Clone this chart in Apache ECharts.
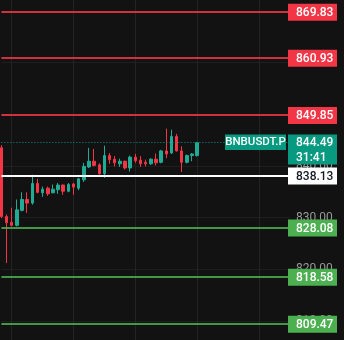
<!DOCTYPE html>
<html><head><meta charset="utf-8">
<script src="https://cdn.jsdelivr.net/npm/echarts@6/dist/echarts.min.js"></script>
<style>html,body{margin:0;padding:0;background:#121212;}#c{width:344px;height:340px;}</style>
</head><body><div id="c"></div>
<script>
// ---- data ----
const slotCount = 57;
const categories = Array.from({length: slotCount}, (_, i) => String(i + 1));
// [open, close, low, high]
const candles = [
  [843.5, 830.2, 829.9, 844.0],
  [830.2, 829.0, 821.2, 830.6],
  [829.1, 828.5, 828.3, 831.9],
  [828.5, 831.5, 828.3, 833.5],
  [831.4, 833.5, 831.2, 834.9],
  [833.5, 832.8, 830.9, 834.9],
  [832.8, 836.6, 832.5, 838.3],
  [836.6, 834.9, 834.7, 837.5],
  [834.8, 835.5, 834.0, 836.0],
  [835.7, 834.6, 834.2, 836.0],
  [834.8, 835.5, 834.7, 836.4],
  [835.4, 836.3, 834.6, 836.7],
  [836.3, 835.1, 834.4, 836.4],
  [835.1, 836.4, 834.9, 836.7],
  [836.5, 835.9, 834.4, 836.7],
  [835.7, 837.5, 835.3, 837.7],
  [837.3, 839.9, 836.9, 840.6],
  [839.8, 840.9, 839.6, 843.5],
  [840.9, 840.1, 839.9, 843.3],
  [840.2, 838.5, 838.3, 840.5],
  [838.5, 842.0, 837.7, 843.9],
  [842.0, 841.2, 840.4, 842.5],
  [841.3, 840.6, 839.9, 841.9],
  [840.4, 840.9, 839.8, 841.4],
  [840.9, 839.6, 839.3, 841.0],
  [839.6, 841.7, 838.9, 842.0],
  [841.7, 841.0, 840.6, 842.3],
  [841.1, 840.4, 839.8, 841.9],
  [840.7, 840.4, 839.9, 841.2],
  [840.4, 841.3, 840.2, 841.5],
  [841.3, 840.6, 840.1, 842.4],
  [840.7, 842.9, 840.5, 843.1],
  [842.9, 842.3, 841.5, 847.2],
  [842.5, 845.7, 842.3, 847.0],
  [845.7, 842.9, 842.8, 846.2],
  [842.9, 840.7, 838.8, 843.8],
  [840.7, 842.0, 840.5, 842.2],
  [842.0, 842.3, 840.9, 842.5],
  [842.0, 844.49, 841.8, 844.6]
];
const resistanceLevels = [869.83, 860.93, 849.85];
const pivotLevels = [838.13];
const supportLevels = [828.08, 818.58, 809.47];
const lastPrice = 844.49;
const symbolName = 'BNBUSDT.P';
const countdown = '31:41';
const yMin = 800, yMax = 880, yInterval = 10;

// ---- styles ----
const UP = '#22ab94', DOWN = '#f23645';
const RED = '#f23645', GREEN = '#4caf50', TEAL = '#089981';
const FONT = 'Roboto, "Noto Sans", sans-serif';

const chart = echarts.init(document.getElementById('c'), null, {renderer: 'canvas'});

const levelLines = [];
resistanceLevels.forEach(v => levelLines.push({yAxis: v, lineStyle: {color: RED, width: 2, opacity: 0.85, type: 'solid'}}));
pivotLevels.forEach(v => levelLines.push({yAxis: v, lineStyle: {color: '#ffffff', width: 2, type: 'solid'}}));
supportLevels.forEach(v => levelLines.push({yAxis: v, lineStyle: {color: GREEN, width: 2, opacity: 0.85, type: 'solid'}}));
levelLines.push({yAxis: lastPrice, lineStyle: {color: TEAL, width: 1, type: [1, 2]}});

chart.setOption({
  backgroundColor: '#121212',
  animation: false,
  grid: {left: 1.4, right: 54.1, top: -40.9, height: 413.6, outerBoundsMode: 'none', containLabel: false},
  xAxis: {
    type: 'category', data: categories, boundaryGap: false,
    axisLine: {show: false}, axisTick: {show: false}, axisLabel: {show: false},
    splitLine: {show: true, interval: (i) => i % 12 === 2, lineStyle: {color: '#232323', width: 1}}
  },
  yAxis: {
    type: 'value', position: 'right', min: yMin, max: yMax, interval: yInterval, scale: true,
    axisLine: {show: false}, axisTick: {show: false},
    axisLabel: {color: '#9a9a9a', fontSize: 12, fontFamily: FONT, margin: 6, formatter: v => v.toFixed(2)},
    splitLine: {show: true, lineStyle: {color: '#1e1e1e', width: 1}}
  },
  series: [{
    type: 'candlestick', data: candles, barWidth: 3, clip: false, z: 3,
    itemStyle: {color: UP, color0: DOWN, borderColor: UP, borderColor0: DOWN, borderWidth: 1},
    markLine: {silent: true, symbol: 'none', label: {show: false}, animation: false, data: levelLines, z: 4}
  }]
});

function addTags() {
  const els = [];
  const tagX = 288, tagW = 49, tagH = 17;
  const yOf = v => chart.convertToPixel({yAxisIndex: 0}, v);
  const tagFont = '500 12px ' + FONT;
  function tag(v, bg, fg) {
    const y = yOf(v);
    els.push({type: 'rect', shape: {x: tagX, y: y - tagH / 2 + 0.5, width: tagW, height: tagH}, style: {fill: bg}, z: 10});
    els.push({type: 'text', style: {text: v.toFixed(2), x: tagX + 8, y: y + 1, fill: fg, font: tagFont, verticalAlign: 'middle', align: 'left'}, z: 11});
  }
  resistanceLevels.forEach(v => tag(v, RED, '#ffffff'));
  pivotLevels.forEach(v => tag(v, '#ffffff', '#131722'));
  supportLevels.forEach(v => tag(v, GREEN, '#ffffff'));
  const y = yOf(lastPrice);
  els.push({type: 'rect', shape: {x: tagX, y: y - 8.3, width: tagW, height: 30}, style: {fill: TEAL}, z: 10});
  els.push({type: 'text', style: {text: lastPrice.toFixed(2), x: tagX + 8, y: y + 0.5, fill: '#ffffff', font: tagFont, verticalAlign: 'middle'}, z: 11});
  els.push({type: 'text', style: {text: countdown, x: tagX + 8, y: y + 14.9, fill: '#ffffff', font: tagFont, verticalAlign: 'middle'}, z: 11});
  els.push({type: 'rect', shape: {x: 225, y: y - 8.3, width: 61, height: 15.5}, style: {fill: TEAL}, z: 10});
  els.push({type: 'text', style: {text: symbolName, x: 255.5, y: y - 0.3, fill: '#ffffff', font: '500 11.5px ' + FONT, verticalAlign: 'middle', align: 'center'}, z: 11});
  chart.setOption({graphic: {elements: els}});
}
addTags();
</script>
</body></html>
